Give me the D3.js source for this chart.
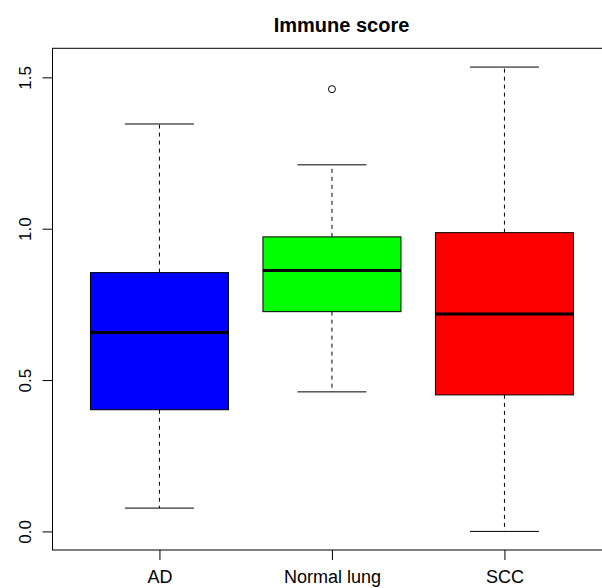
<!DOCTYPE html>
<html>
<head>
<meta charset="utf-8">
<script src="https://cdn.jsdelivr.net/npm/d3@7"></script>
<style>
  html, body { margin: 0; padding: 0; background: #fff; }
  svg { display: block; font-family: "Liberation Sans", Arial, Helvetica, sans-serif; }
</style>
</head>
<body>
<svg id="chart" width="602" height="588"></svg>
<script>
// ---- data ----
const categories = ["AD", "Normal lung", "SCC"];
const colors = ["#0000FF", "#00FF00", "#FF0000"];
const whiskerLow = [0.077, 0.461, 0.000];
const q1 = [0.402, 0.726, 0.451];
const median = [0.657, 0.862, 0.718];
const q3 = [0.855, 0.973, 0.987];
const whiskerHigh = [1.346, 1.211, 1.534];
const outliers = [[], [1.461], []];
const yTicks = [0, 0.5, 1.0, 1.5];
const title = "Immune score";

(function () {
const svg = d3.select("#chart");
const pLeft = 52.5, pRight = 611.4, pTop = 48.3, pBottom = 550;

const x = d3.scalePoint().domain(categories).range([pLeft, pRight]).padding(0.62);
const y = d3.scaleLinear().domain([-0.0614, 1.596]).range([pBottom, pTop]);
const step = x.step();
const boxW = step * 0.8;
const capW = boxW * 0.5;

const data = categories.map((c, i) => ({
  cat: c, color: colors[i], lo: whiskerLow[i], q1: q1[i], med: median[i],
  q3: q3[i], hi: whiskerHigh[i], out: outliers[i]
}));

const g = svg.append("g");
const boxes = g.selectAll("g.box").data(data).enter().append("g");

// whiskers (dashed)
boxes.append("line")
  .attr("x1", d => x(d.cat)).attr("x2", d => x(d.cat))
  .attr("y1", d => y(d.q3)).attr("y2", d => y(d.hi))
  .attr("stroke", "#000").attr("stroke-width", 1).attr("stroke-dasharray", "4,4");
boxes.append("line")
  .attr("x1", d => x(d.cat)).attr("x2", d => x(d.cat))
  .attr("y1", d => y(d.q1)).attr("y2", d => y(d.lo))
  .attr("stroke", "#000").attr("stroke-width", 1).attr("stroke-dasharray", "4,4");
// caps
boxes.append("line")
  .attr("x1", d => x(d.cat) - capW / 2).attr("x2", d => x(d.cat) + capW / 2)
  .attr("y1", d => y(d.hi)).attr("y2", d => y(d.hi))
  .attr("stroke", "#000").attr("stroke-width", 1);
boxes.append("line")
  .attr("x1", d => x(d.cat) - capW / 2).attr("x2", d => x(d.cat) + capW / 2)
  .attr("y1", d => y(d.lo)).attr("y2", d => y(d.lo))
  .attr("stroke", "#000").attr("stroke-width", 1);
// box
boxes.append("rect")
  .attr("x", d => x(d.cat) - boxW / 2).attr("width", boxW)
  .attr("y", d => y(d.q3)).attr("height", d => y(d.q1) - y(d.q3))
  .attr("fill", d => d.color).attr("stroke", "#000").attr("stroke-width", 1);
// median
boxes.append("line")
  .attr("x1", d => x(d.cat) - boxW / 2).attr("x2", d => x(d.cat) + boxW / 2)
  .attr("y1", d => y(d.med)).attr("y2", d => y(d.med))
  .attr("stroke", "#000").attr("stroke-width", 3);
// outliers
boxes.selectAll("circle").data(d => d.out.map(v => ({ cat: d.cat, v }))).enter()
  .append("circle")
  .attr("cx", d => x(d.cat)).attr("cy", d => y(d.v)).attr("r", 3.5)
  .attr("fill", "none").attr("stroke", "#000").attr("stroke-width", 1);

// frame
svg.append("rect")
  .attr("x", pLeft).attr("y", pTop).attr("width", pRight - pLeft).attr("height", pBottom - pTop)
  .attr("fill", "none").attr("stroke", "#000").attr("stroke-width", 1);

// y axis
const yAxis = svg.append("g").attr("transform", `translate(${pLeft},0)`)
  .call(d3.axisLeft(y).tickValues(yTicks).tickFormat(d3.format(".1f")).tickSize(10));
yAxis.select(".domain").remove();
yAxis.selectAll("line").attr("stroke", "#000");
yAxis.selectAll("text")
  .attr("font-size", 17).attr("fill", "#000")
  .attr("text-anchor", "middle")
  .attr("x", 0).attr("dy", 0)
  .attr("transform", "translate(-21.5,0) rotate(-90)");

// x axis
const xAxis = svg.append("g").attr("transform", `translate(0,${pBottom})`)
  .call(d3.axisBottom(x).tickSize(10));
xAxis.select(".domain").remove();
xAxis.selectAll("line").attr("stroke", "#000");
xAxis.selectAll("text")
  .attr("font-size", 18).attr("fill", "#000")
  .attr("y", 33).attr("dy", 0);

// title
svg.append("text")
  .attr("x", 341.5).attr("y", 31.5)
  .attr("text-anchor", "middle")
  .attr("font-weight", "bold").attr("font-size", 20)
  .text(title);
})();
</script>
</body>
</html>
